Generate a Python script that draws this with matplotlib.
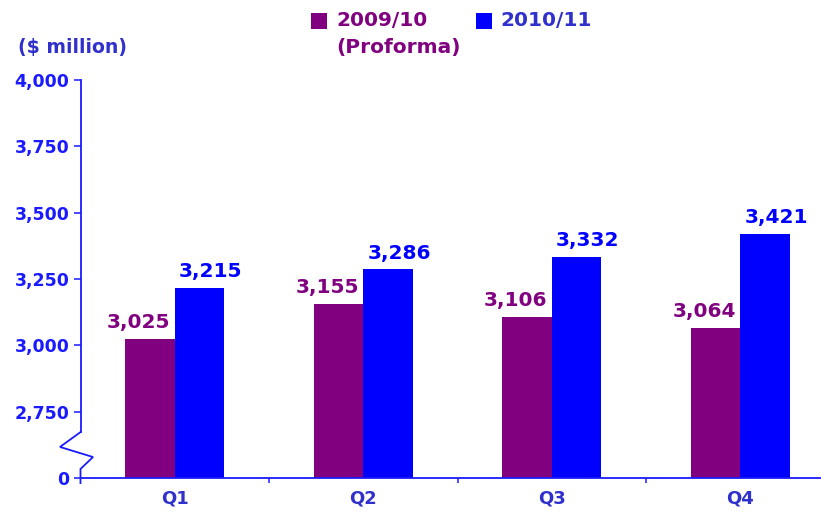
import matplotlib
matplotlib.use("Agg")
import matplotlib.pyplot as plt
import matplotlib.transforms as mtransforms
from matplotlib.patches import Rectangle
import numpy as np

categories = ["Q1", "Q2", "Q3", "Q4"]
series_names = ["2009/10", "2010/11"]
series_note = "(Proforma)"
values_0910 = [3025, 3155, 3106, 3064]
values_1011 = [3215, 3286, 3332, 3421]
ytick_values = [2500, 2750, 3000, 3250, 3500, 3750, 4000]
ytick_labels = ["0", "2,750", "3,000", "3,250", "3,500", "3,750", "4,000"]

PURPLE = "#800080"
BLUE = "#0000ff"
AXBLUE = "#1a1aff"
DARKBLUE = "#3030cc"

plt.rcParams['font.family'] = ['DejaVu Sans']

fig = plt.figure(figsize=(8.21, 5.14), dpi=100)
W, H = 821, 514
ax = fig.add_axes([80.5 / W, (H - 478) / H, (W - 80.5) / W, (478 - 80) / H])

base = 2500
x = np.arange(len(categories))
bw = 0.263
ax.bar(x - bw / 2, np.array(values_0910) - base, bw, bottom=base, color=PURPLE, linewidth=0)
ax.bar(x + bw / 2, np.array(values_1011) - base, bw, bottom=base, color=BLUE, linewidth=0)

for xi, v in zip(x, values_0910):
    ax.annotate(f"{v:,}", (xi - bw / 2, v), xytext=(-8, 5), textcoords="offset points",
                ha="center", va="bottom", color=PURPLE, fontsize=14.5, fontweight="bold")
for xi, v in zip(x, values_1011):
    ax.annotate(f"{v:,}", (xi + bw / 2, v), xytext=(8, 5), textcoords="offset points",
                ha="center", va="bottom", color=BLUE, fontsize=14.5, fontweight="bold")

ax.set_xlim(-0.5, 3.5 - 13.5 / 188.5)
ax.set_ylim(base, 4000)

ax.set_yticks(ytick_values)
ax.set_yticklabels(ytick_labels)
ax.tick_params(axis="y", direction="out", length=5, width=1.1, color=AXBLUE,
               labelcolor=AXBLUE, labelsize=12.5, pad=3)
for lab in ax.get_yticklabels():
    lab.set_fontweight("bold")

ax.set_xticks(x)
ax.set_xticklabels(categories)
ax.set_xticks([0.5, 1.5, 2.5], minor=True)
ax.tick_params(axis="x", which="major", length=0, labelcolor=DARKBLUE, labelsize=13, pad=8)
ax.tick_params(axis="x", which="minor", direction="out", length=3.5, width=1.1, color=AXBLUE)
for lab in ax.get_xticklabels():
    lab.set_fontweight("bold")

for s in ["top", "right"]:
    ax.spines[s].set_visible(False)
ax.spines["bottom"].set_color(AXBLUE)
ax.spines["bottom"].set_linewidth(1.3)
ax.spines["left"].set_color(AXBLUE)
ax.spines["left"].set_linewidth(1.3)
ax.spines["left"].set_bounds(2673, 4000)

# axis break zigzag
aw = W - 80.5
trans = mtransforms.blended_transform_factory(ax.transAxes, ax.transData)
zx = [0, (60 - 80.5) / aw, (93 - 80.5) / aw, 0, 0]
zy = [2673, 2617, 2579, 2534, 2481]
ax.plot(zx, zy, color=AXBLUE, lw=1.3, transform=trans, clip_on=False, solid_joinstyle="miter")

fig.text(18 / W, 1 - 47 / H, "($ million)", color=DARKBLUE, fontsize=13.6,
         fontweight="bold", ha="left", va="center")

# legend
fig.patches.append(Rectangle((311 / W, 1 - 29 / H), 16 / W, 16 / H, transform=fig.transFigure,
                             color=PURPLE, lw=0))
fig.text(336 / W, 1 - 21 / H, series_names[0], color=PURPLE, fontsize=14.5,
         fontweight="bold", ha="left", va="center")
fig.text(336 / W, 1 - 47 / H, series_note, color=PURPLE, fontsize=14.5,
         fontweight="bold", ha="left", va="center")
fig.patches.append(Rectangle((476 / W, 1 - 29 / H), 16 / W, 16 / H, transform=fig.transFigure,
                             color=BLUE, lw=0))
fig.text(500 / W, 1 - 21 / H, series_names[1], color=DARKBLUE, fontsize=14.5,
         fontweight="bold", ha="left", va="center")

fig.savefig("out.png", dpi=100)
